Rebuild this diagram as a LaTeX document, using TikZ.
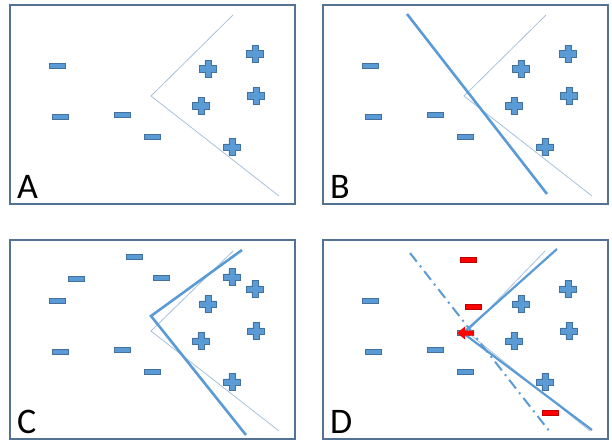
\documentclass[tikz,border=0pt]{standalone}
\usepackage{fontspec}
\setmainfont{Carlito}
\usetikzlibrary{positioning}

\definecolor{ptblue}{RGB}{91,155,213}
\definecolor{ptedge}{RGB}{65,113,156}
\definecolor{framecol}{RGB}{84,114,148}
\definecolor{thincol}{RGB}{168,192,222}

\tikzset{
  negpt/.style={rectangle,fill=ptblue,draw=ptedge,line width=0.6pt,
    minimum width=16pt,minimum height=5pt,inner sep=0pt},
  redneg/.style={negpt,fill=red,draw=red!75!black},
  pospt/.pic={
    \filldraw[fill=ptblue,draw=ptedge,line width=0.6pt]
      (-8.3,-3.2) -- (-3.2,-3.2) -- (-3.2,-8.3) -- (3.2,-8.3) -- (3.2,-3.2)
      -- (8.3,-3.2) -- (8.3,3.2) -- (3.2,3.2) -- (3.2,8.3) -- (-3.2,8.3)
      -- (-3.2,3.2) -- (-8.3,3.2) -- cycle;
    \coordinate (-c) at (0,0);
  },
  panelframe/.style={draw=framecol,line width=1.2pt},
  oldline/.style={draw=thincol,line width=0.8pt},
  newline/.style={draw=ptblue,line width=2.6pt},
  tagtext/.style={anchor=base west,inner sep=0pt,font=\fontsize{36}{36}\selectfont}
}

\begin{document}
\begin{tikzpicture}[x=1pt,y=-1pt]
\useasboundingbox (0,0) rectangle (612,441);

% what all four panels share
\foreach \pn/\dx/\dy/\tag in {a/0/0/A,b/313/0/B,c/0/235/C,d/313/235/D}{
  \begin{scope}[shift={(\dx,\dy)}]
    \draw[panelframe] (10,5) rectangle (295,204);
    \node[tagtext] (\pn_tag) at (17,198) {\tag};
    \node[negpt] (\pn_m1) at (57,66) {};
    \node[negpt] (\pn_m2) at (60,117) {};
    \node[negpt] (\pn_m3) at (122,115) {};
    \node[negpt] (\pn_m4) at (152,137) {};
    \pic (\pn_p1) at (208,69) {pospt};
    \pic (\pn_p2) at (255,54) {pospt};
    \pic (\pn_p3) at (201,106) {pospt};
    \pic (\pn_p4) at (256,96) {pospt};
    \pic (\pn_p5) at (232,147) {pospt};
  \end{scope}
}

% A: first boundary
\coordinate (a_top) at (233,15);
\coordinate (a_vx) at (151,96);
\coordinate (a_bot) at (279,196);
\draw[oldline] (a_top) -- (a_vx) -- (a_bot);

% B: a straight line against it
\begin{scope}[shift={(313,0)}]
  \coordinate (b_top) at (233,15);
  \coordinate (b_vx) at (151,96);
  \coordinate (b_bot) at (279,196);
  \coordinate (b_s) at (94,14);
  \coordinate (b_e) at (234,194);
  \draw[oldline] (b_top) -- (b_vx) -- (b_bot);
  \draw[newline] (b_s) -- (b_e);
\end{scope}

% C: more points, the boundary moves
\begin{scope}[shift={(0,235)}]
  \node[negpt] (c_m5) at (76,44) {};
  \node[negpt] (c_m6) at (134,22) {};
  \node[negpt] (c_m7) at (161,43) {};
  \pic (c_p6) at (232,42) {pospt};
  \coordinate (c_top) at (233,16);
  \coordinate (c_vx) at (151,96);
  \coordinate (c_bot) at (279,196);
  \coordinate (c_ntop) at (242,15);
  \coordinate (c_nvx) at (151,81);
  \coordinate (c_nbot) at (246,200);
  \draw[oldline] (c_top) -- (c_vx) -- (c_bot);
  \draw[newline] (c_ntop) -- (c_nvx) -- (c_nbot);
\end{scope}

% D: red points pull the boundary
\begin{scope}[shift={(313,235)}]
  \node[redneg] (d_r1) at (155,25) {};
  \node[redneg] (d_r2) at (160,72) {};
  \node[redneg] (d_r3) at (237,178) {};
  \node[negpt] (d_m5) at (152,98) {};
  \coordinate (d_top) at (232,16);
  \coordinate (d_vx) at (154,97);
  \coordinate (d_bot) at (277,196);
  \coordinate (d_ntop) at (244,14);
  \coordinate (d_nvx) at (150,98);
  \coordinate (d_nbot) at (279,195);
  \coordinate (d_ds) at (97,18);
  \coordinate (d_de) at (237,197);
  \draw[oldline] (d_top) -- (d_vx) -- (d_bot);
  \draw[ptblue,line width=2pt,dash pattern=on 11pt off 5pt on 2pt off 5pt]
    (d_ds) -- (d_de);
  \draw[newline,line width=2.2pt] (d_ntop) -- (d_nvx) -- (d_nbot);
  \fill[red] (144,98) -- (152,91.5) -- (152,95.5) -- (161,95.5) -- (161,100.5)
    -- (152,100.5) -- (152,104.5) -- cycle;
\end{scope}
\end{tikzpicture}
\end{document}
